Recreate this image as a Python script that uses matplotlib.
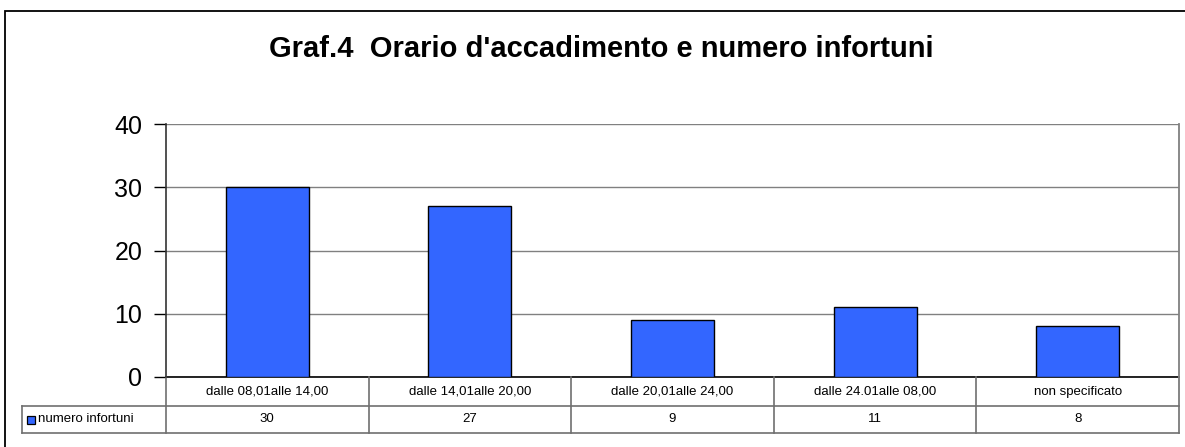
import matplotlib
matplotlib.use("Agg")
import matplotlib.pyplot as plt
from matplotlib.transforms import blended_transform_factory
from matplotlib.patches import Rectangle

plt.rcParams['font.family'] = ['Liberation Sans', 'DejaVu Sans']

title = "Graf.4  Orario d'accadimento e numero infortuni"
categories = ["dalle 08,01alle 14,00", "dalle 14,01alle 20,00",
              "dalle 20,01alle 24,00", "dalle 24.01alle 08,00", "non specificato"]
series_name = "numero infortuni"
values = [30, 27, 9, 11, 8]
yticks = [0, 10, 20, 30, 40]

W, H = 1185, 447
fig = plt.figure(figsize=(W / 100, H / 100), dpi=100)

# outer chart frame
fig.patches.append(Rectangle((5 / W, -0.05), 1.2, (H - 11) / H + 0.05,
                             transform=fig.transFigure, fill=False,
                             edgecolor='black', linewidth=1.3))

left_px, right_px, top_px, bot_px = 166, 1179, 124, 377
ax = fig.add_axes([left_px / W, 1 - bot_px / H,
                   (right_px - left_px) / W, (bot_px - top_px) / H])

x = list(range(len(categories)))
ax.bar(x, values, width=0.41, color='#3366FF', edgecolor='black',
       linewidth=1.0, zorder=3)
ax.set_xlim(-0.5, len(categories) - 0.5)
ax.set_ylim(0, 40)
ax.set_yticks(yticks)
ax.set_yticklabels([str(t) for t in yticks], fontsize=18)
ax.tick_params(axis='y', length=9, width=1, color='black', pad=8)
ax.set_xticks([])
ax.yaxis.grid(True, color='#808080', linewidth=1, zorder=0)
ax.set_axisbelow(True)
for s in ['top', 'bottom']:
    ax.spines[s].set_visible(False)
ax.spines['right'].set_color('#808080')
ax.spines['right'].set_linewidth(1.3)
ax.spines['left'].set_color('#333333')
ax.spines['left'].set_linewidth(1.2)

# data table under the plot
tr = blended_transform_factory(ax.transData, ax.transAxes)
hpx = bot_px - top_px
y0 = 0.0
y1 = -(406 - bot_px) / hpx
y2 = -(433 - bot_px) / hpx
ppu = (right_px - left_px) / len(categories)
xl = -0.5 - (left_px - 22) / ppu
xr = len(categories) - 0.5
lc = '#707070'
kw = dict(transform=tr, clip_on=False, color=lc, linewidth=1.2)
ax.plot([-0.5, xr], [y0, y0], color='black', linewidth=1.2, transform=tr, clip_on=False)
ax.plot([xl, xr], [y1, y1], **kw)
ax.plot([xl, xr], [y2, y2], **kw)
ax.plot([xl, xl], [y1, y2], **kw)
for i in range(len(categories) + 1):
    ax.plot([i - 0.5, i - 0.5], [y0, y2], **kw)
for i, (c, v) in enumerate(zip(categories, values)):
    ax.text(i, (y0 + y1) / 2, c, transform=tr, ha='center', va='center', fontsize=9.5)
    ax.text(i, (y1 + y2) / 2, str(v), transform=tr, ha='center', va='center', fontsize=9.5)
# legend key in table
kx = xl + 5 / ppu
ax.add_patch(Rectangle((kx, (y1 + y2) / 2 - 4 / hpx), 8 / ppu, 8 / hpx,
                       transform=tr, clip_on=False, facecolor='#3366FF',
                       edgecolor='black', linewidth=0.9))
ax.text(kx + 11 / ppu, (y1 + y2) / 2, series_name, transform=tr,
        ha='left', va='center', fontsize=9.5)

fig.text(601 / W, 1 - 49 / H, title, ha='center', va='center',
         fontsize=21, fontweight='bold')

fig.savefig('out.png', dpi=100)
